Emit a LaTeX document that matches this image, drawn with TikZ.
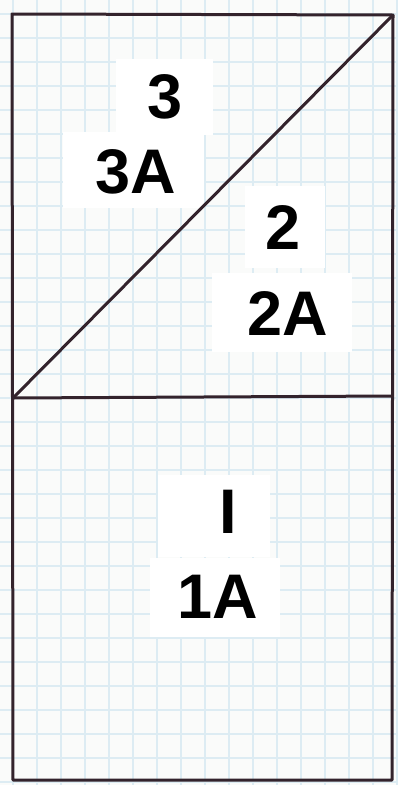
\documentclass[tikz,border=0pt]{standalone}
\usepackage{fontspec}
\setmainfont{Liberation Sans}
\definecolor{paper}{HTML}{FAFBFA}
\definecolor{gridblue}{HTML}{DDECF3}
\definecolor{ink}{HTML}{33232C}
\tikzset{
  patch/.style={fill=white, draw=none, inner sep=0pt, anchor=north west},
  lbl/.style={inner sep=0pt, font=\fontsize{63}{70}\bfseries\selectfont, text=black},
  penline/.style={draw=ink, line width=3pt, line cap=round, line join=round}
}
\begin{document}
\begin{tikzpicture}[x=1pt,y=-1pt]
\useasboundingbox (0,0) rectangle (397,785);
\fill[paper] (0,0) rectangle (397,785);
% grid
\foreach \gx in {13,37,...,400} \draw[gridblue, line width=1.2pt] (\gx,0) -- (\gx,785);
\foreach \gy in {14,38,...,785} \draw[gridblue, line width=1.2pt] (0,\gy) -- (397,\gy);
% patches
\node[patch, minimum width=97pt, minimum height=76pt] (p3) at (116,59) {};
\node[patch, minimum width=141pt, minimum height=76pt] (p3a) at (63,132) {};
\node[patch, minimum width=80pt, minimum height=82pt] (p2) at (245,186) {};
\node[patch, minimum width=140pt, minimum height=79pt] (p2a) at (212,273) {};
\node[patch, minimum width=112pt, minimum height=82pt] (p1) at (158,475) {};
\node[patch, minimum width=130pt, minimum height=79pt] (p1a) at (150,558) {};
% labels
\node[lbl] (t3) at (165,97) {3};
\node[lbl] (t3a) at (136,172) {3A};
\node[lbl] (t2) at (283,227) {2};
\node[lbl] (t2a) at (288,313) {2A};
\node[lbl] (t1) at (228,512) {I};
\node[lbl] (t1a) at (218,597) {1A};
% frame corners
\coordinate (tl) at (12,14);
\coordinate (tr) at (393,15);
\coordinate (br) at (392,780);
\coordinate (bl) at (13,780);
\coordinate (ml) at (13,398);
\coordinate (mr) at (392,396);
\draw[penline] (tl) -- (tr) -- (br) -- (bl) -- cycle;
\draw[penline] (ml) -- (mr);
\draw[penline] (ml) -- (tr);
\end{tikzpicture}
\end{document}
